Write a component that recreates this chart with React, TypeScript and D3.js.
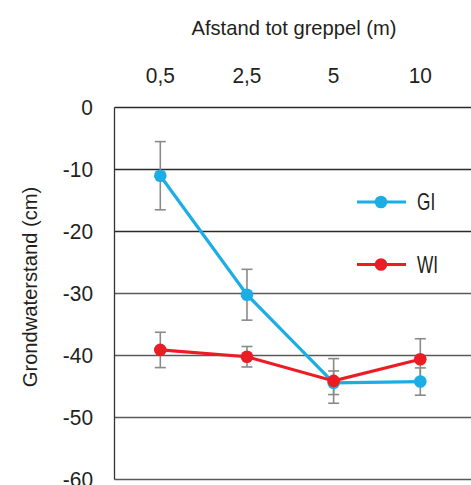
import React, { useEffect, useRef } from 'react';
import * as d3 from 'd3';

// afstand tot greppel (m)
const categories = ['0,5', '2,5', '5', '10'];
// grondwaterstand (cm), gemiddelde en foutmarge
const giValues = [-11.0, -30.2, -44.4, -44.2];
const giErrors = [5.5, 4.1, 1.9, 2.2];
const wiValues = [-39.1, -40.2, -44.1, -40.6];
const wiErrors = [2.85, 1.65, 3.6, 3.3];
const yTicks = [0, -10, -20, -30, -40, -50, -60];

const series = [
  { name: 'GI', color: '#1badE4', values: giValues, errors: giErrors },
  { name: 'WI', color: '#ec1c24', values: wiValues, errors: wiErrors },
];

const FONT = '"Liberation Sans", Arial, sans-serif';
const TEXT = '#231f20';

export default function App() {
  const ref = useRef<SVGSVGElement>(null);

  useEffect(() => {
    const width = 471;
    const height = 485;
    const marginLeft = 114.5;
    const marginTop = 107.5;
    const marginBottom = 5.5;

    const svg = d3.select(ref.current);
    svg.selectAll('*').remove();

    const x = d3.scalePoint().domain(categories).range([160.3, 420.3]);
    const y = d3
      .scaleLinear()
      .domain([0, -60])
      .range([marginTop, height - marginBottom]);

    // gridlines
    svg
      .append('g')
      .selectAll('line')
      .data(yTicks)
      .join('line')
      .attr('x1', marginLeft)
      .attr('x2', width)
      .attr('y1', (d) => y(d))
      .attr('y2', (d) => y(d))
      .attr('stroke', (d) => (d > -30 ? '#2a2a2a' : '#5a5a5a'))
      .attr('stroke-width', 1.3);

    // left frame
    svg
      .append('line')
      .attr('x1', marginLeft)
      .attr('x2', marginLeft)
      .attr('y1', y(0))
      .attr('y2', y(-60))
      .attr('stroke', '#333')
      .attr('stroke-width', 1.3);

    // y tick labels
    svg
      .append('g')
      .selectAll('text')
      .data(yTicks)
      .join('text')
      .attr('transform', (d) => `translate(93,${y(d)}) scale(0.95,1)`)
      .attr('dy', '0.36em')
      .attr('text-anchor', 'end')
      .attr('font-family', FONT)
      .attr('font-size', 22)
      .attr('fill', TEXT)
      .text((d) => String(d));

    // x tick labels (top)
    svg
      .append('g')
      .selectAll('text')
      .data(categories)
      .join('text')
      .attr('transform', (d) => `translate(${x(d)},83) scale(0.95,1)`)
      .attr('text-anchor', 'middle')
      .attr('font-family', FONT)
      .attr('font-size', 22)
      .attr('fill', TEXT)
      .text((d) => d);

    // axis titles
    svg
      .append('text')
      .attr('transform', 'translate(294,35) scale(0.96,1)')
      .attr('text-anchor', 'middle')
      .attr('font-family', FONT)
      .attr('font-size', 21)
      .attr('fill', TEXT)
      .text('Afstand tot greppel (m)');

    svg
      .append('text')
      .attr('transform', 'translate(37,287) rotate(-90) scale(0.96,1)')
      .attr('text-anchor', 'middle')
      .attr('font-family', FONT)
      .attr('font-size', 21)
      .attr('fill', TEXT)
      .text('Grondwaterstand (cm)');

    // error bars
    const capW = 5.5;
    series.forEach((s) => {
      const g = svg.append('g').attr('stroke', '#8a8a8a').attr('stroke-width', 1.6);
      s.values.forEach((v, i) => {
        const cx = x(categories[i]) as number;
        const top = y(v + s.errors[i]);
        const bot = y(v - s.errors[i]);
        g.append('line').attr('x1', cx).attr('x2', cx).attr('y1', top).attr('y2', bot);
        g.append('line').attr('x1', cx - capW).attr('x2', cx + capW).attr('y1', top).attr('y2', top);
        g.append('line').attr('x1', cx - capW).attr('x2', cx + capW).attr('y1', bot).attr('y2', bot);
      });
    });

    // lines and points
    const line = d3
      .line<number>()
      .x((_, i) => x(categories[i]) as number)
      .y((d) => y(d));

    series.forEach((s) => {
      svg
        .append('path')
        .attr('fill', 'none')
        .attr('stroke', s.color)
        .attr('stroke-width', 3.2)
        .attr('d', line(s.values));
      svg
        .append('g')
        .selectAll('circle')
        .data(s.values)
        .join('circle')
        .attr('cx', (_, i) => x(categories[i]) as number)
        .attr('cy', (d) => y(d))
        .attr('r', 6.3)
        .attr('fill', s.color);
    });

    // legend
    const legend = svg.append('g');
    series.forEach((s, i) => {
      const ly = 202 + i * 62.5;
      legend
        .append('line')
        .attr('x1', 357)
        .attr('x2', 406)
        .attr('y1', ly)
        .attr('y2', ly)
        .attr('stroke', s.color)
        .attr('stroke-width', 3.2);
      legend
        .append('circle')
        .attr('cx', 381)
        .attr('cy', ly)
        .attr('r', 6.3)
        .attr('fill', s.color);
      legend
        .append('text')
        .attr('transform', `translate(417,${ly}) scale(0.75,1)`)
        .attr('dy', '0.36em')
        .attr('font-family', FONT)
        .attr('font-size', 23)
        .attr('fill', TEXT)
        .text(s.name);
    });
  }, []);

  return (
    <svg
      ref={ref}
      width={471}
      height={485}
      style={{ position: 'absolute', left: 0, top: 0, background: '#fff' }}
    />
  );
}
